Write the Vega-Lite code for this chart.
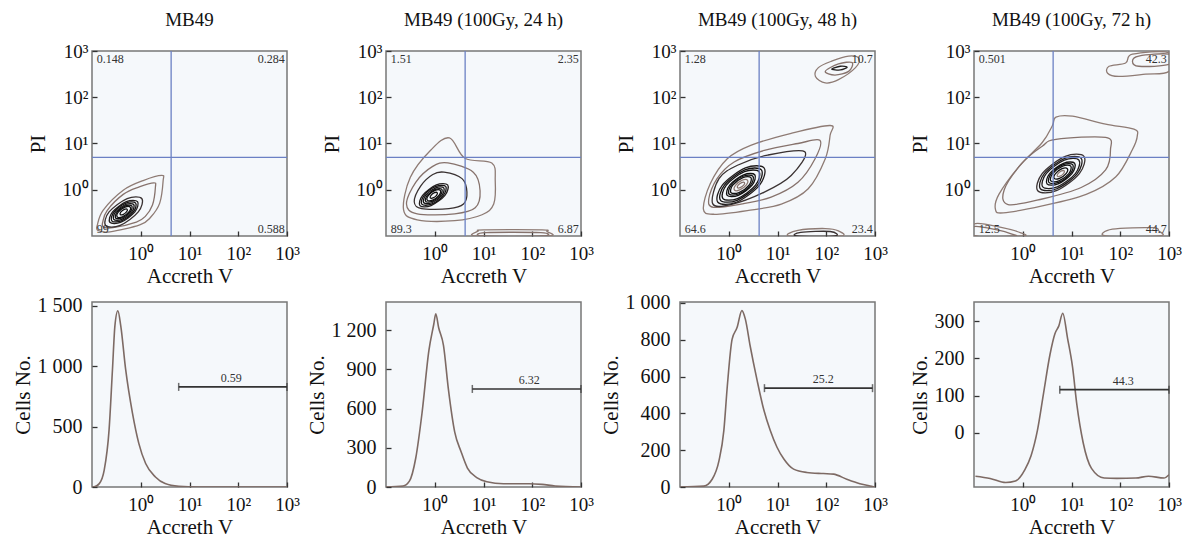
{
"$schema": "https://vega.github.io/schema/vega-lite/v6.json",
"background": "white",
"padding": {"left": 11, "top": 10, "right": 5, "bottom": 5},
"columns": 4,
"bounds": "flush",
"spacing": {"row": 66, "column": 99},
"datasets": {
"gate": [{"x": 4.2, "y": 5}],
"c1": [
{"c":"a","i":0,"x":0.129,"y":0.174,"l":1},{"c":"a","i":1,"x":0.17,"y":0.363,"l":1},{"c":"a","i":2,"x":0.437,"y":0.977,"l":1},{"c":"a","i":3,"x":1.12,"y":1.58,"l":1},{"c":"a","i":4,"x":2.69,"y":2.04,"l":1},{"c":"a","i":5,"x":2.88,"y":1.58,"l":1},{"c":"a","i":6,"x":2.45,"y":0.513,"l":1},{"c":"a","i":7,"x":1.58,"y":0.251,"l":1},{"c":"a","i":8,"x":0.955,"y":0.174,"l":1},{"c":"a","i":9,"x":0.234,"y":0.123,"l":1},{"c":"a","i":10,"x":0.132,"y":0.132,"l":1},
{"c":"b","i":0,"x":0.166,"y":0.2,"l":2},{"c":"b","i":1,"x":0.204,"y":0.355,"l":2},{"c":"b","i":2,"x":0.437,"y":0.794,"l":2},{"c":"b","i":3,"x":0.933,"y":1.15,"l":2},{"c":"b","i":4,"x":1.86,"y":1.41,"l":2},{"c":"b","i":5,"x":2.0,"y":1.15,"l":2},{"c":"b","i":6,"x":1.74,"y":0.468,"l":2},{"c":"b","i":7,"x":1.23,"y":0.263,"l":2},{"c":"b","i":8,"x":0.813,"y":0.2,"l":2},{"c":"b","i":9,"x":0.269,"y":0.151,"l":2},{"c":"b","i":10,"x":0.17,"y":0.158,"l":2},
{"c":"c","i":0,"x":1.05,"y":0.647,"l":3},{"c":"c","i":1,"x":0.527,"y":0.645,"l":3},{"c":"c","i":2,"x":0.224,"y":0.331,"l":3},{"c":"c","i":3,"x":0.19,"y":0.169,"l":3},{"c":"c","i":4,"x":0.379,"y":0.17,"l":3},{"c":"c","i":5,"x":0.89,"y":0.331,"l":3},
{"c":"d","i":0,"x":0.86,"y":0.553,"l":4},{"c":"d","i":1,"x":0.507,"y":0.552,"l":4},{"c":"d","i":2,"x":0.264,"y":0.331,"l":4},{"c":"d","i":3,"x":0.232,"y":0.198,"l":4},{"c":"d","i":4,"x":0.394,"y":0.199,"l":4},{"c":"d","i":5,"x":0.757,"y":0.331,"l":4},
{"c":"d2","i":0,"x":0.786,"y":0.515,"l":5},{"c":"d2","i":1,"x":0.498,"y":0.515,"l":5},{"c":"d2","i":2,"x":0.284,"y":0.331,"l":5},{"c":"d2","i":3,"x":0.254,"y":0.213,"l":5},{"c":"d2","i":4,"x":0.401,"y":0.213,"l":5},{"c":"d2","i":5,"x":0.704,"y":0.331,"l":5},
{"c":"e","i":0,"x":0.717,"y":0.48,"l":5},{"c":"e","i":1,"x":0.49,"y":0.48,"l":5},{"c":"e","i":2,"x":0.305,"y":0.331,"l":5},{"c":"e","i":3,"x":0.279,"y":0.228,"l":5},{"c":"e","i":4,"x":0.408,"y":0.228,"l":5},{"c":"e","i":5,"x":0.655,"y":0.331,"l":5},
{"c":"e2","i":0,"x":0.655,"y":0.447,"l":6},{"c":"e2","i":1,"x":0.481,"y":0.447,"l":6},{"c":"e2","i":2,"x":0.329,"y":0.331,"l":6},{"c":"e2","i":3,"x":0.305,"y":0.245,"l":6},{"c":"e2","i":4,"x":0.415,"y":0.245,"l":6},{"c":"e2","i":5,"x":0.608,"y":0.331,"l":6},
{"c":"f","i":0,"x":0.608,"y":0.422,"l":6},{"c":"f","i":1,"x":0.475,"y":0.422,"l":6},{"c":"f","i":2,"x":0.349,"y":0.331,"l":6},{"c":"f","i":3,"x":0.329,"y":0.26,"l":6},{"c":"f","i":4,"x":0.421,"y":0.26,"l":6},{"c":"f","i":5,"x":0.573,"y":0.331,"l":6},
{"c":"g","i":0,"x":0.527,"y":0.377,"l":7},{"c":"g","i":1,"x":0.462,"y":0.377,"l":7},{"c":"g","i":2,"x":0.392,"y":0.331,"l":7},{"c":"g","i":3,"x":0.38,"y":0.291,"l":7},{"c":"g","i":4,"x":0.433,"y":0.291,"l":7},{"c":"g","i":5,"x":0.51,"y":0.331,"l":7}
],
"c2": [
{"c":"a","i":0,"x":2.0,"y":13.2,"l":1},{"c":"a","i":1,"x":4.17,"y":4.79,"l":1},{"c":"a","i":2,"x":14.8,"y":3.8,"l":1},{"c":"a","i":3,"x":17.4,"y":1.58,"l":1},{"c":"a","i":4,"x":16.2,"y":0.49,"l":1},{"c":"a","i":5,"x":9.33,"y":0.288,"l":1},{"c":"a","i":6,"x":2.57,"y":0.214,"l":1},{"c":"a","i":7,"x":0.437,"y":0.224,"l":1},{"c":"a","i":8,"x":0.229,"y":0.372,"l":1},{"c":"a","i":9,"x":0.316,"y":1.86,"l":1},{"c":"a","i":10,"x":0.832,"y":7.24,"l":1},
{"c":"b","i":0,"x":1.86,"y":3.8,"l":2},{"c":"b","i":1,"x":6.17,"y":2.4,"l":2},{"c":"b","i":2,"x":8.51,"y":0.955,"l":2},{"c":"b","i":3,"x":6.76,"y":0.407,"l":2},{"c":"b","i":4,"x":2.57,"y":0.302,"l":2},{"c":"b","i":5,"x":0.437,"y":0.302,"l":2},{"c":"b","i":6,"x":0.263,"y":0.49,"l":2},{"c":"b","i":7,"x":0.407,"y":1.45,"l":2},{"c":"b","i":8,"x":0.891,"y":3.16,"l":2},
{"c":"c","i":0,"x":1.55,"y":2.4,"l":3},{"c":"c","i":1,"x":3.63,"y":1.74,"l":3},{"c":"c","i":2,"x":4.57,"y":0.891,"l":3},{"c":"c","i":3,"x":3.89,"y":0.49,"l":3},{"c":"c","i":4,"x":1.95,"y":0.389,"l":3},{"c":"c","i":5,"x":0.537,"y":0.389,"l":3},{"c":"c","i":6,"x":0.38,"y":0.55,"l":3},{"c":"c","i":7,"x":0.513,"y":1.2,"l":3},{"c":"c","i":8,"x":0.912,"y":2.14,"l":3},
{"c":"d","i":0,"x":1.84,"y":1.27,"l":4},{"c":"d","i":1,"x":1.08,"y":1.27,"l":4},{"c":"d","i":2,"x":0.563,"y":0.759,"l":4},{"c":"d","i":3,"x":0.497,"y":0.454,"l":4},{"c":"d","i":4,"x":0.841,"y":0.455,"l":4},{"c":"d","i":5,"x":1.62,"y":0.759,"l":4},
{"c":"d2","i":0,"x":1.68,"y":1.18,"l":5},{"c":"d2","i":1,"x":1.06,"y":1.18,"l":5},{"c":"d2","i":2,"x":0.606,"y":0.759,"l":5},{"c":"d2","i":3,"x":0.543,"y":0.488,"l":5},{"c":"d2","i":4,"x":0.858,"y":0.488,"l":5},{"c":"d2","i":5,"x":1.5,"y":0.759,"l":5},
{"c":"e","i":0,"x":1.53,"y":1.1,"l":5},{"c":"e","i":1,"x":1.05,"y":1.1,"l":5},{"c":"e","i":2,"x":0.651,"y":0.759,"l":5},{"c":"e","i":3,"x":0.596,"y":0.524,"l":5},{"c":"e","i":4,"x":0.871,"y":0.524,"l":5},{"c":"e","i":5,"x":1.4,"y":0.759,"l":5},
{"c":"e2","i":0,"x":1.4,"y":1.02,"l":6},{"c":"e2","i":1,"x":1.03,"y":1.02,"l":6},{"c":"e2","i":2,"x":0.702,"y":0.759,"l":6},{"c":"e2","i":3,"x":0.651,"y":0.562,"l":6},{"c":"e2","i":4,"x":0.887,"y":0.562,"l":6},{"c":"e2","i":5,"x":1.3,"y":0.759,"l":6},
{"c":"f","i":0,"x":1.3,"y":0.967,"l":6},{"c":"f","i":1,"x":1.01,"y":0.967,"l":6},{"c":"f","i":2,"x":0.745,"y":0.759,"l":6},{"c":"f","i":3,"x":0.702,"y":0.596,"l":6},{"c":"f","i":4,"x":0.9,"y":0.596,"l":6},{"c":"f","i":5,"x":1.22,"y":0.759,"l":6},
{"c":"g","i":0,"x":1.12,"y":0.864,"l":7},{"c":"g","i":1,"x":0.987,"y":0.864,"l":7},{"c":"g","i":2,"x":0.838,"y":0.759,"l":7},{"c":"g","i":3,"x":0.811,"y":0.667,"l":7},{"c":"g","i":4,"x":0.924,"y":0.667,"l":7},{"c":"g","i":5,"x":1.09,"y":0.759,"l":7},
{"c":"h","i":0,"x":7.2,"y":0.1,"l":1},{"c":"h","i":1,"x":7.8,"y":0.128,"l":1},{"c":"h","i":2,"x":10,"y":0.135,"l":1},{"c":"h","i":3,"x":160,"y":0.135,"l":1},{"c":"h","i":4,"x":200,"y":0.125,"l":1},{"c":"h","i":5,"x":210,"y":0.1,"l":1},
{"c":"k","i":0,"x":10,"y":0.1,"l":2},{"c":"k","i":1,"x":11,"y":0.118,"l":2},{"c":"k","i":2,"x":150,"y":0.118,"l":2},{"c":"k","i":3,"x":160,"y":0.1,"l":2}
],
"c3": [
{"c":"a","i":0,"x":120,"y":24.5,"l":1},{"c":"a","i":1,"x":120,"y":15.1,"l":1},{"c":"a","i":2,"x":95.5,"y":4.68,"l":1},{"c":"a","i":3,"x":42.7,"y":1.05,"l":1},{"c":"a","i":4,"x":12,"y":0.49,"l":1},{"c":"a","i":5,"x":2.4,"y":0.355,"l":1},{"c":"a","i":6,"x":0.49,"y":0.295,"l":1},{"c":"a","i":7,"x":0.302,"y":0.38,"l":1},{"c":"a","i":8,"x":0.417,"y":1.35,"l":1},{"c":"a","i":9,"x":0.933,"y":4.68,"l":1},{"c":"a","i":10,"x":2.82,"y":9.12,"l":1},{"c":"a","i":11,"x":19.1,"y":16.6,"l":1},
{"c":"b","i":0,"x":74,"y":11.7,"l":2},{"c":"b","i":1,"x":59,"y":4.68,"l":2},{"c":"b","i":2,"x":26.3,"y":1.45,"l":2},{"c":"b","i":3,"x":7.4,"y":0.692,"l":2},{"c":"b","i":4,"x":1.78,"y":0.49,"l":2},{"c":"b","i":5,"x":0.49,"y":0.417,"l":2},{"c":"b","i":6,"x":0.389,"y":0.631,"l":2},{"c":"b","i":7,"x":0.575,"y":1.74,"l":2},{"c":"b","i":8,"x":1.29,"y":3.98,"l":2},{"c":"b","i":9,"x":5.37,"y":7.08,"l":2},{"c":"b","i":10,"x":26.3,"y":10,"l":2},
{"c":"c","i":0,"x":36.3,"y":6.61,"l":3},{"c":"c","i":1,"x":19.1,"y":2.04,"l":3},{"c":"c","i":2,"x":5.37,"y":0.891,"l":3},{"c":"c","i":3,"x":1.1,"y":0.479,"l":3},{"c":"c","i":4,"x":0.468,"y":0.501,"l":3},{"c":"c","i":5,"x":0.631,"y":1.74,"l":3},{"c":"c","i":6,"x":1.51,"y":3.39,"l":3},{"c":"c","i":7,"x":6.31,"y":5.62,"l":3},
{"c":"d","i":0,"x":5.3,"y":2.97,"l":4},{"c":"d","i":1,"x":2.2,"y":2.96,"l":4},{"c":"d","i":2,"x":0.739,"y":1.26,"l":4},{"c":"d","i":3,"x":0.598,"y":0.536,"l":4},{"c":"d","i":4,"x":1.44,"y":0.537,"l":4},{"c":"d","i":5,"x":4.29,"y":1.26,"l":4},
{"c":"d2","i":0,"x":4.67,"y":2.69,"l":5},{"c":"d2","i":1,"x":2.14,"y":2.68,"l":5},{"c":"d2","i":2,"x":0.817,"y":1.26,"l":5},{"c":"d2","i":3,"x":0.678,"y":0.591,"l":5},{"c":"d2","i":4,"x":1.48,"y":0.592,"l":5},{"c":"d2","i":5,"x":3.88,"y":1.26,"l":5},
{"c":"e","i":0,"x":4.18,"y":2.46,"l":5},{"c":"e","i":1,"x":2.1,"y":2.46,"l":5},{"c":"e","i":2,"x":0.894,"y":1.26,"l":5},{"c":"e","i":3,"x":0.758,"y":0.645,"l":5},{"c":"e","i":4,"x":1.51,"y":0.646,"l":5},{"c":"e","i":5,"x":3.54,"y":1.26,"l":5},
{"c":"f","i":0,"x":3.42,"y":2.11,"l":6},{"c":"f","i":1,"x":2.02,"y":2.1,"l":6},{"c":"f","i":2,"x":1.05,"y":1.26,"l":6},{"c":"f","i":3,"x":0.926,"y":0.753,"l":6},{"c":"f","i":4,"x":1.57,"y":0.756,"l":6},{"c":"f","i":5,"x":3.02,"y":1.26,"l":6},
{"c":"f2","i":0,"x":3.13,"y":1.96,"l":7},{"c":"f2","i":1,"x":1.98,"y":1.96,"l":7},{"c":"f2","i":2,"x":1.13,"y":1.26,"l":7},{"c":"f2","i":3,"x":1.01,"y":0.81,"l":7},{"c":"f2","i":4,"x":1.6,"y":0.81,"l":7},{"c":"f2","i":5,"x":2.8,"y":1.26,"l":7},
{"c":"g","i":0,"x":2.85,"y":1.83,"l":7},{"c":"g","i":1,"x":1.95,"y":1.83,"l":7},{"c":"g","i":2,"x":1.21,"y":1.26,"l":7},{"c":"g","i":3,"x":1.11,"y":0.869,"l":7},{"c":"g","i":4,"x":1.62,"y":0.869,"l":7},{"c":"g","i":5,"x":2.61,"y":1.26,"l":7},
{"c":"h","i":0,"x":2.42,"y":1.61,"l":8},{"c":"h","i":1,"x":1.89,"y":1.61,"l":8},{"c":"h","i":2,"x":1.39,"y":1.26,"l":8},{"c":"h","i":3,"x":1.31,"y":0.989,"l":8},{"c":"h","i":4,"x":1.68,"y":0.989,"l":8},{"c":"h","i":5,"x":2.28,"y":1.26,"l":8},
{"c":"m","i":0,"x":2.1,"y":1.43,"l":9},{"c":"m","i":1,"x":1.84,"y":1.43,"l":9},{"c":"m","i":2,"x":1.56,"y":1.26,"l":9},{"c":"m","i":3,"x":1.51,"y":1.11,"l":9},{"c":"m","i":4,"x":1.72,"y":1.11,"l":9},{"c":"m","i":5,"x":2.03,"y":1.26,"l":9},
{"c":"n","i":0,"x":60,"y":282,"l":1},{"c":"n","i":1,"x":69,"y":437,"l":1},{"c":"n","i":2,"x":129,"y":603,"l":1},{"c":"n","i":3,"x":288,"y":776,"l":1},{"c":"n","i":4,"x":468,"y":692,"l":1},{"c":"n","i":5,"x":398,"y":437,"l":1},{"c":"n","i":6,"x":178,"y":240,"l":1},{"c":"n","i":7,"x":95.5,"y":204,"l":1},
{"c":"o","i":0,"x":95.5,"y":363,"l":2},{"c":"o","i":1,"x":178,"y":525,"l":2},{"c":"o","i":2,"x":339,"y":562,"l":2},{"c":"o","i":3,"x":288,"y":363,"l":2},{"c":"o","i":4,"x":151,"y":302,"l":2},
{"c":"p","i":0,"x":129,"y":407,"l":4},{"c":"p","i":1,"x":195,"y":468,"l":4},{"c":"p","i":2,"x":269,"y":447,"l":4},{"c":"p","i":3,"x":195,"y":389,"l":4},
{"c":"q","i":0,"x":17.8,"y":0.1,"l":1},{"c":"q","i":1,"x":26.3,"y":0.132,"l":1},{"c":"q","i":2,"x":95.5,"y":0.145,"l":1},{"c":"q","i":3,"x":178,"y":0.129,"l":1},{"c":"q","i":4,"x":195,"y":0.1,"l":1},
{"c":"r","i":0,"x":25,"y":0.1,"l":3},{"c":"r","i":1,"x":30,"y":0.12,"l":3},{"c":"r","i":2,"x":120,"y":0.125,"l":3},{"c":"r","i":3,"x":150,"y":0.1,"l":3}
],
"c4": [
{"c":"a","i":0,"x":4.79,"y":37.2,"l":1},{"c":"a","i":1,"x":10.5,"y":38.9,"l":1},{"c":"a","i":2,"x":50.1,"y":26.3,"l":1},{"c":"a","i":3,"x":191,"y":20.4,"l":1},{"c":"a","i":4,"x":224,"y":14.8,"l":1},{"c":"a","i":5,"x":178,"y":7.41,"l":1},{"c":"a","i":6,"x":81.3,"y":1.91,"l":1},{"c":"a","i":7,"x":20,"y":0.794,"l":1},{"c":"a","i":8,"x":2.51,"y":0.447,"l":1},{"c":"a","i":9,"x":0.398,"y":0.316,"l":1},{"c":"a","i":10,"x":0.275,"y":0.38,"l":1},{"c":"a","i":11,"x":0.324,"y":0.794,"l":1},{"c":"a","i":12,"x":0.832,"y":3.16,"l":1},{"c":"a","i":13,"x":2.51,"y":10.5,"l":1},{"c":"a","i":14,"x":4.07,"y":24.5,"l":1},
{"c":"b","i":0,"x":4.79,"y":12.3,"l":2},{"c":"b","i":1,"x":50.1,"y":13.5,"l":2},{"c":"b","i":2,"x":63.1,"y":7.41,"l":2},{"c":"b","i":3,"x":50.1,"y":2.69,"l":2},{"c":"b","i":4,"x":15.8,"y":1.12,"l":2},{"c":"b","i":5,"x":2.51,"y":0.631,"l":2},{"c":"b","i":6,"x":0.501,"y":0.479,"l":2},{"c":"b","i":7,"x":0.417,"y":1.0,"l":2},{"c":"b","i":8,"x":0.977,"y":3.8,"l":2},{"c":"b","i":9,"x":2.51,"y":8.71,"l":2},
{"c":"c","i":0,"x":18,"y":5.28,"l":3},{"c":"c","i":1,"x":7.45,"y":5.26,"l":3},{"c":"c","i":2,"x":2.5,"y":2.24,"l":3},{"c":"c","i":3,"x":2.03,"y":0.952,"l":3},{"c":"c","i":4,"x":4.88,"y":0.954,"l":3},{"c":"c","i":5,"x":14.5,"y":2.24,"l":3},
{"c":"c2","i":0,"x":15.8,"y":4.78,"l":4},{"c":"c2","i":1,"x":7.27,"y":4.77,"l":4},{"c":"c2","i":2,"x":2.77,"y":2.24,"l":4},{"c":"c2","i":3,"x":2.3,"y":1.05,"l":4},{"c":"c2","i":4,"x":5.0,"y":1.05,"l":4},{"c":"c2","i":5,"x":13.1,"y":2.24,"l":4},
{"c":"d","i":0,"x":14.2,"y":4.38,"l":4},{"c":"d","i":1,"x":7.12,"y":4.37,"l":4},{"c":"d","i":2,"x":3.03,"y":2.24,"l":4},{"c":"d","i":3,"x":2.57,"y":1.15,"l":4},{"c":"d","i":4,"x":5.11,"y":1.15,"l":4},{"c":"d","i":5,"x":12,"y":2.24,"l":4},
{"c":"e","i":0,"x":11.6,"y":3.74,"l":5},{"c":"e","i":1,"x":6.84,"y":3.73,"l":5},{"c":"e","i":2,"x":3.56,"y":2.24,"l":5},{"c":"e","i":3,"x":3.14,"y":1.34,"l":5},{"c":"e","i":4,"x":5.31,"y":1.34,"l":5},{"c":"e","i":5,"x":10.2,"y":2.24,"l":5},
{"c":"e2","i":0,"x":10.6,"y":3.49,"l":6},{"c":"e2","i":1,"x":6.72,"y":3.49,"l":6},{"c":"e2","i":2,"x":3.83,"y":2.24,"l":6},{"c":"e2","i":3,"x":3.43,"y":1.44,"l":6},{"c":"e2","i":4,"x":5.41,"y":1.44,"l":6},{"c":"e2","i":5,"x":9.49,"y":2.24,"l":6},
{"c":"f","i":0,"x":9.67,"y":3.25,"l":6},{"c":"f","i":1,"x":6.61,"y":3.25,"l":6},{"c":"f","i":2,"x":4.11,"y":2.24,"l":6},{"c":"f","i":3,"x":3.76,"y":1.55,"l":6},{"c":"f","i":4,"x":5.5,"y":1.55,"l":6},{"c":"f","i":5,"x":8.84,"y":2.24,"l":6},
{"c":"g","i":0,"x":8.21,"y":2.85,"l":7},{"c":"g","i":1,"x":6.4,"y":2.85,"l":7},{"c":"g","i":2,"x":4.7,"y":2.24,"l":7},{"c":"g","i":3,"x":4.43,"y":1.76,"l":7},{"c":"g","i":4,"x":5.68,"y":1.76,"l":7},{"c":"g","i":5,"x":7.73,"y":2.24,"l":7},
{"c":"h","i":0,"x":7.1,"y":2.55,"l":8},{"c":"h","i":1,"x":6.23,"y":2.55,"l":8},{"c":"h","i":2,"x":5.29,"y":2.24,"l":8},{"c":"h","i":3,"x":5.12,"y":1.97,"l":8},{"c":"h","i":4,"x":5.84,"y":1.97,"l":8},{"c":"h","i":5,"x":6.87,"y":2.24,"l":8},
{"c":"n","i":0,"x":55,"y":331,"l":1},{"c":"n","i":1,"x":58.9,"y":468,"l":1},{"c":"n","i":2,"x":129,"y":550,"l":1},{"c":"n","i":3,"x":178,"y":851,"l":1},{"c":"n","i":4,"x":1000,"y":912,"l":1},{"c":"n","i":5,"x":1000,"y":363,"l":1},{"c":"n","i":6,"x":331,"y":316,"l":1},{"c":"n","i":7,"x":93.3,"y":282,"l":1},
{"c":"o","i":0,"x":178,"y":603,"l":2},{"c":"o","i":1,"x":240,"y":776,"l":2},{"c":"o","i":2,"x":1000,"y":851,"l":2},{"c":"o","i":3,"x":1000,"y":513,"l":2},{"c":"o","i":4,"x":240,"y":468,"l":2},
{"c":"p","i":0,"x":0.1,"y":0.1,"l":1},{"c":"p","i":1,"x":0.107,"y":0.186,"l":1},{"c":"p","i":2,"x":0.38,"y":0.151,"l":1},{"c":"p","i":3,"x":0.912,"y":0.117,"l":1},{"c":"p","i":4,"x":0.977,"y":0.1,"l":1},
{"c":"q","i":0,"x":0.1,"y":0.1,"l":2},{"c":"q","i":1,"x":0.1,"y":0.16,"l":2},{"c":"q","i":2,"x":0.3,"y":0.135,"l":2},{"c":"q","i":3,"x":0.6,"y":0.11,"l":2},{"c":"q","i":4,"x":0.65,"y":0.1,"l":2},
{"c":"r","i":0,"x":50,"y":0.1,"l":1},{"c":"r","i":1,"x":69,"y":0.141,"l":1},{"c":"r","i":2,"x":457,"y":0.151,"l":1},{"c":"r","i":3,"x":617,"y":0.129,"l":1},{"c":"r","i":4,"x":630,"y":0.1,"l":1}
],
"q1": [{"x":0.125,"y":680,"t":"0.148","s":"L"},{"x":900,"y":680,"t":"0.284","s":"R"},{"x":0.125,"y":0.145,"t":"99","s":"L"},{"x":900,"y":0.145,"t":"0.588","s":"R"}],
"q2": [{"x":0.125,"y":680,"t":"1.51","s":"L"},{"x":900,"y":680,"t":"2.35","s":"R"},{"x":0.125,"y":0.145,"t":"89.3","s":"L"},{"x":900,"y":0.145,"t":"6.87","s":"R"}],
"q3": [{"x":0.125,"y":680,"t":"1.28","s":"L"},{"x":900,"y":680,"t":"10.7","s":"R"},{"x":0.125,"y":0.145,"t":"64.6","s":"L"},{"x":900,"y":0.145,"t":"23.4","s":"R"}],
"q4": [{"x":0.125,"y":680,"t":"0.501","s":"L"},{"x":900,"y":680,"t":"42.3","s":"R"},{"x":0.125,"y":0.145,"t":"12.5","s":"L"},{"x":900,"y":0.145,"t":"44.7","s":"R"}],
"h1": [{"x":0.1,"y":0},{"x":0.107,"y":0},{"x":0.141,"y":28},{"x":0.178,"y":139},{"x":0.224,"y":472},{"x":0.263,"y":972},{"x":0.295,"y":1333},{"x":0.339,"y":1458},{"x":0.389,"y":1333},{"x":0.49,"y":972},{"x":0.676,"y":611},{"x":0.912,"y":361},{"x":1.26,"y":194},{"x":2,"y":83},{"x":3.16,"y":28},{"x":6.03,"y":6},{"x":15.1,"y":0},{"x":1000,"y":0}],
"h2": [{"x":0.1,"y":0},{"x":0.224,"y":8},{"x":0.302,"y":45},{"x":0.407,"y":220},{"x":0.55,"y":570},{"x":0.759,"y":1045},{"x":0.955,"y":1245},{"x":1.05,"y":1325},{"x":1.2,"y":1220},{"x":1.51,"y":1083},{"x":1.91,"y":745},{"x":2.57,"y":420},{"x":3.47,"y":270},{"x":4.68,"y":145},{"x":7.41,"y":70},{"x":11.7,"y":40},{"x":25.7,"y":25},{"x":87.1,"y":25},{"x":158,"y":20},{"x":295,"y":8},{"x":1000,"y":0}],
"h3": [{"x":0.1,"y":0},{"x":0.309,"y":5},{"x":0.457,"y":42},{"x":0.631,"y":143},{"x":0.794,"y":308},{"x":0.933,"y":546},{"x":1.17,"y":802},{"x":1.48,"y":866},{"x":1.86,"y":958},{"x":2.19,"y":912},{"x":2.75,"y":766},{"x":3.8,"y":582},{"x":5.25,"y":418},{"x":7.08,"y":308},{"x":9.77,"y":216},{"x":13.5,"y":152},{"x":21.4,"y":97},{"x":39.8,"y":79},{"x":87.1,"y":73},{"x":141,"y":70},{"x":263,"y":42},{"x":490,"y":18},{"x":851,"y":4},{"x":1000,"y":0}],
"h4": [{"x":0.107,"y":-116},{"x":0.214,"y":-122},{"x":0.447,"y":-133},{"x":0.708,"y":-129},{"x":1.1,"y":-99},{"x":1.48,"y":-61},{"x":2,"y":7},{"x":2.69,"y":109},{"x":3.63,"y":211},{"x":4.57,"y":266},{"x":5.5,"y":287},{"x":6.61,"y":321},{"x":8.32,"y":253},{"x":10.5,"y":177},{"x":12.9,"y":75},{"x":17.4,"y":-27},{"x":25.7,"y":-95},{"x":46.8,"y":-121},{"x":85.1,"y":-122},{"x":209,"y":-121},{"x":380,"y":-116},{"x":794,"y":-121},{"x":1000,"y":-112}],
"g1": [{"x":6.0,"x2":1000,"y":828,"t":"0.59","tx":72}],
"g2": [{"x":5.9,"x2":1000,"y":750,"t":"6.32","tx":87}],
"g3": [{"x":5.4,"x2":890,"y":537,"t":"25.2","tx":87}],
"g4": [{"x":5.75,"x2":1000,"y":116,"t":"44.3","tx":115}]
},
"concat": [
{"width":195,"height":185,"title":"MB49","layer":[
{"data":{"name":"c1"},"mark":{"type":"line","interpolate":"cardinal-closed","clip":true,"strokeWidth":1.3},
 "encoding":{"x":{"field":"x","type":"quantitative","title":"Accreth V","scale":{"type":"log","domain":[0.1,1000],"nice":false},"axis":{"values":[1,10,100,1000],"labelExpr":"datum.value == 1 ? '10⁰' : datum.value == 10 ? '10¹' : datum.value == 100 ? '10²' : '10³'"}},
 "y":{"field":"y","type":"quantitative","title":"PI","scale":{"type":"log","domain":[0.1,1000],"nice":false},"axis":{"values":[1,10,100,1000],"titlePadding":14,"labelExpr":"datum.value == 1 ? '10⁰' : datum.value == 10 ? '10¹' : datum.value == 100 ? '10²' : '10³'"}},
 "detail":{"field":"c"},"order":{"field":"i","type":"quantitative"},
 "color":{"field":"l","type":"ordinal","legend":null,"scale":{"domain":[1,2,3,4,5,6,7],"range":["#8e7b74","#86726c","#3a3232","#221e1e","#151313","#111111","#111111"]}}}},
{"data":{"name":"gate"},"mark":{"type":"rule","color":"#6b80c4","strokeWidth":1.3},"encoding":{"x":{"field":"x","type":"quantitative","title":"Accreth V"}}},
{"data":{"name":"gate"},"mark":{"type":"rule","color":"#6b80c4","strokeWidth":1.3},"encoding":{"y":{"field":"y","type":"quantitative","title":"PI"}}},
{"data":{"name":"q1"},"transform":[{"filter":"datum.s == 'L'"}],"mark":{"type":"text","align":"left","baseline":"middle","fontSize":12,"color":"#333"},"encoding":{"x":{"field":"x","type":"quantitative","title":"Accreth V"},"y":{"field":"y","type":"quantitative","title":"PI"},"text":{"field":"t"}}},
{"data":{"name":"q1"},"transform":[{"filter":"datum.s == 'R'"}],"mark":{"type":"text","align":"right","baseline":"middle","fontSize":12,"color":"#333"},"encoding":{"x":{"field":"x","type":"quantitative","title":"Accreth V"},"y":{"field":"y","type":"quantitative","title":"PI"},"text":{"field":"t"}}}
]},
{"width":195,"height":185,"title":"MB49 (100Gy, 24 h)","layer":[
{"data":{"name":"c2"},"mark":{"type":"line","interpolate":"cardinal-closed","clip":true,"strokeWidth":1.3},
 "encoding":{"x":{"field":"x","type":"quantitative","title":"Accreth V","scale":{"type":"log","domain":[0.1,1000],"nice":false},"axis":{"values":[1,10,100,1000],"labelExpr":"datum.value == 1 ? '10⁰' : datum.value == 10 ? '10¹' : datum.value == 100 ? '10²' : '10³'"}},
 "y":{"field":"y","type":"quantitative","title":"PI","scale":{"type":"log","domain":[0.1,1000],"nice":false},"axis":{"values":[1,10,100,1000],"titlePadding":14,"labelExpr":"datum.value == 1 ? '10⁰' : datum.value == 10 ? '10¹' : datum.value == 100 ? '10²' : '10³'"}},
 "detail":{"field":"c"},"order":{"field":"i","type":"quantitative"},
 "color":{"field":"l","type":"ordinal","legend":null,"scale":{"domain":[1,2,3,4,5,6,7],"range":["#8e7b74","#86726c","#7a6862","#3a3232","#221e1e","#151313","#111111"]}}}},
{"data":{"name":"gate"},"mark":{"type":"rule","color":"#6b80c4","strokeWidth":1.3},"encoding":{"x":{"field":"x","type":"quantitative","title":"Accreth V"}}},
{"data":{"name":"gate"},"mark":{"type":"rule","color":"#6b80c4","strokeWidth":1.3},"encoding":{"y":{"field":"y","type":"quantitative","title":"PI"}}},
{"data":{"name":"q2"},"transform":[{"filter":"datum.s == 'L'"}],"mark":{"type":"text","align":"left","baseline":"middle","fontSize":12,"color":"#333"},"encoding":{"x":{"field":"x","type":"quantitative","title":"Accreth V"},"y":{"field":"y","type":"quantitative","title":"PI"},"text":{"field":"t"}}},
{"data":{"name":"q2"},"transform":[{"filter":"datum.s == 'R'"}],"mark":{"type":"text","align":"right","baseline":"middle","fontSize":12,"color":"#333"},"encoding":{"x":{"field":"x","type":"quantitative","title":"Accreth V"},"y":{"field":"y","type":"quantitative","title":"PI"},"text":{"field":"t"}}}
]},
{"width":195,"height":185,"title":"MB49 (100Gy, 48 h)","layer":[
{"data":{"name":"c3"},"mark":{"type":"line","interpolate":"cardinal-closed","clip":true,"strokeWidth":1.3},
 "encoding":{"x":{"field":"x","type":"quantitative","title":"Accreth V","scale":{"type":"log","domain":[0.1,1000],"nice":false},"axis":{"values":[1,10,100,1000],"labelExpr":"datum.value == 1 ? '10⁰' : datum.value == 10 ? '10¹' : datum.value == 100 ? '10²' : '10³'"}},
 "y":{"field":"y","type":"quantitative","title":"PI","scale":{"type":"log","domain":[0.1,1000],"nice":false},"axis":{"values":[1,10,100,1000],"titlePadding":14,"labelExpr":"datum.value == 1 ? '10⁰' : datum.value == 10 ? '10¹' : datum.value == 100 ? '10²' : '10³'"}},
 "detail":{"field":"c"},"order":{"field":"i","type":"quantitative"},
 "color":{"field":"l","type":"ordinal","legend":null,"scale":{"domain":[1,2,3,4,5,6,7,8,9],"range":["#8e7b74","#86726c","#7a6862","#3a3232","#2a2626","#1e1b1b","#151313","#111111","#111111"]}}}},
{"data":{"name":"gate"},"mark":{"type":"rule","color":"#6b80c4","strokeWidth":1.3},"encoding":{"x":{"field":"x","type":"quantitative","title":"Accreth V"}}},
{"data":{"name":"gate"},"mark":{"type":"rule","color":"#6b80c4","strokeWidth":1.3},"encoding":{"y":{"field":"y","type":"quantitative","title":"PI"}}},
{"data":{"name":"q3"},"transform":[{"filter":"datum.s == 'L'"}],"mark":{"type":"text","align":"left","baseline":"middle","fontSize":12,"color":"#333"},"encoding":{"x":{"field":"x","type":"quantitative","title":"Accreth V"},"y":{"field":"y","type":"quantitative","title":"PI"},"text":{"field":"t"}}},
{"data":{"name":"q3"},"transform":[{"filter":"datum.s == 'R'"}],"mark":{"type":"text","align":"right","baseline":"middle","fontSize":12,"color":"#333"},"encoding":{"x":{"field":"x","type":"quantitative","title":"Accreth V"},"y":{"field":"y","type":"quantitative","title":"PI"},"text":{"field":"t"}}}
]},
{"width":195,"height":185,"title":"MB49 (100Gy, 72 h)","layer":[
{"data":{"name":"c4"},"mark":{"type":"line","interpolate":"cardinal-closed","clip":true,"strokeWidth":1.3},
 "encoding":{"x":{"field":"x","type":"quantitative","title":"Accreth V","scale":{"type":"log","domain":[0.1,1000],"nice":false},"axis":{"values":[1,10,100,1000],"labelExpr":"datum.value == 1 ? '10⁰' : datum.value == 10 ? '10¹' : datum.value == 100 ? '10²' : '10³'"}},
 "y":{"field":"y","type":"quantitative","title":"PI","scale":{"type":"log","domain":[0.1,1000],"nice":false},"axis":{"values":[1,10,100,1000],"titlePadding":14,"labelExpr":"datum.value == 1 ? '10⁰' : datum.value == 10 ? '10¹' : datum.value == 100 ? '10²' : '10³'"}},
 "detail":{"field":"c"},"order":{"field":"i","type":"quantitative"},
 "color":{"field":"l","type":"ordinal","legend":null,"scale":{"domain":[1,2,3,4,5,6,7,8],"range":["#8e7b74","#86726c","#3a3232","#2a2626","#1e1b1b","#151313","#111111","#111111"]}}}},
{"data":{"name":"gate"},"mark":{"type":"rule","color":"#6b80c4","strokeWidth":1.3},"encoding":{"x":{"field":"x","type":"quantitative","title":"Accreth V"}}},
{"data":{"name":"gate"},"mark":{"type":"rule","color":"#6b80c4","strokeWidth":1.3},"encoding":{"y":{"field":"y","type":"quantitative","title":"PI"}}},
{"data":{"name":"q4"},"transform":[{"filter":"datum.s == 'L'"}],"mark":{"type":"text","align":"left","baseline":"middle","fontSize":12,"color":"#333"},"encoding":{"x":{"field":"x","type":"quantitative","title":"Accreth V"},"y":{"field":"y","type":"quantitative","title":"PI"},"text":{"field":"t"}}},
{"data":{"name":"q4"},"transform":[{"filter":"datum.s == 'R'"}],"mark":{"type":"text","align":"right","baseline":"middle","fontSize":12,"color":"#333"},"encoding":{"x":{"field":"x","type":"quantitative","title":"Accreth V"},"y":{"field":"y","type":"quantitative","title":"PI"},"text":{"field":"t"}}}
]},
{"width":195,"height":185,"layer":[
{"data":{"name":"h1"},"mark":{"type":"line","color":"#7d6a64","strokeWidth":1.6,"clip":true,"interpolate":"monotone"},
 "encoding":{"x":{"field":"x","type":"quantitative","title":"Accreth V","scale":{"type":"log","domain":[0.1,1000],"nice":false},"axis":{"values":[1,10,100,1000],"labelExpr":"datum.value == 1 ? '10⁰' : datum.value == 10 ? '10¹' : datum.value == 100 ? '10²' : '10³'"}},
 "y":{"field":"y","type":"quantitative","title":"Cells No.","scale":{"domain":[0,1530],"nice":false,"zero":false},"axis":{"values":[0,500,1000,1500],"tickCount":12,"titlePadding":4,"labelPadding":15,"labelFontSize":20,"labelExpr":"replace(format(datum.value, ','), ',', ' ')"}}}},
{"data":{"name":"g1"},"mark":{"type":"rule","color":"#333","strokeWidth":1.6},"encoding":{"x":{"field":"x","type":"quantitative","title":"Accreth V"},"x2":{"field":"x2"},"y":{"field":"y","type":"quantitative","title":"Cells No."}}},
{"data":{"name":"g1"},"mark":{"type":"tick","orient":"vertical","size":8,"thickness":1.5,"color":"#333"},"encoding":{"x":{"field":"x","type":"quantitative","title":"Accreth V"},"y":{"field":"y","type":"quantitative","title":"Cells No."}}},
{"data":{"name":"g1"},"mark":{"type":"tick","orient":"vertical","size":8,"thickness":1.5,"color":"#333"},"encoding":{"x":{"field":"x2","type":"quantitative","title":"Accreth V"},"y":{"field":"y","type":"quantitative","title":"Cells No."}}},
{"data":{"name":"g1"},"mark":{"type":"text","baseline":"bottom","dy":-2,"fontSize":12,"color":"#333"},"encoding":{"x":{"field":"tx","type":"quantitative","title":"Accreth V"},"y":{"field":"y","type":"quantitative","title":"Cells No."},"text":{"field":"t"}}}
]},
{"width":195,"height":185,"layer":[
{"data":{"name":"h2"},"mark":{"type":"line","color":"#7d6a64","strokeWidth":1.6,"clip":true,"interpolate":"monotone"},
 "encoding":{"x":{"field":"x","type":"quantitative","title":"Accreth V","scale":{"type":"log","domain":[0.1,1000],"nice":false},"axis":{"values":[1,10,100,1000],"labelExpr":"datum.value == 1 ? '10⁰' : datum.value == 10 ? '10¹' : datum.value == 100 ? '10²' : '10³'"}},
 "y":{"field":"y","type":"quantitative","title":"Cells No.","scale":{"domain":[0,1415],"nice":false,"zero":false},"axis":{"values":[0,300,600,900,1200],"tickCount":12,"titlePadding":4,"labelPadding":15,"labelFontSize":20,"labelExpr":"replace(format(datum.value, ','), ',', ' ')"}}}},
{"data":{"name":"g2"},"mark":{"type":"rule","color":"#333","strokeWidth":1.6},"encoding":{"x":{"field":"x","type":"quantitative","title":"Accreth V"},"x2":{"field":"x2"},"y":{"field":"y","type":"quantitative","title":"Cells No."}}},
{"data":{"name":"g2"},"mark":{"type":"tick","orient":"vertical","size":8,"thickness":1.5,"color":"#333"},"encoding":{"x":{"field":"x","type":"quantitative","title":"Accreth V"},"y":{"field":"y","type":"quantitative","title":"Cells No."}}},
{"data":{"name":"g2"},"mark":{"type":"tick","orient":"vertical","size":8,"thickness":1.5,"color":"#333"},"encoding":{"x":{"field":"x2","type":"quantitative","title":"Accreth V"},"y":{"field":"y","type":"quantitative","title":"Cells No."}}},
{"data":{"name":"g2"},"mark":{"type":"text","baseline":"bottom","dy":-2,"fontSize":12,"color":"#333"},"encoding":{"x":{"field":"tx","type":"quantitative","title":"Accreth V"},"y":{"field":"y","type":"quantitative","title":"Cells No."},"text":{"field":"t"}}}
]},
{"width":195,"height":185,"layer":[
{"data":{"name":"h3"},"mark":{"type":"line","color":"#7d6a64","strokeWidth":1.6,"clip":true,"interpolate":"monotone"},
 "encoding":{"x":{"field":"x","type":"quantitative","title":"Accreth V","scale":{"type":"log","domain":[0.1,1000],"nice":false},"axis":{"values":[1,10,100,1000],"labelExpr":"datum.value == 1 ? '10⁰' : datum.value == 10 ? '10¹' : datum.value == 100 ? '10²' : '10³'"}},
 "y":{"field":"y","type":"quantitative","title":"Cells No.","scale":{"domain":[0,1005],"nice":false,"zero":false},"axis":{"values":[0,200,400,600,800,1000],"tickCount":12,"titlePadding":4,"labelPadding":15,"labelFontSize":20,"labelExpr":"replace(format(datum.value, ','), ',', ' ')"}}}},
{"data":{"name":"g3"},"mark":{"type":"rule","color":"#333","strokeWidth":1.6},"encoding":{"x":{"field":"x","type":"quantitative","title":"Accreth V"},"x2":{"field":"x2"},"y":{"field":"y","type":"quantitative","title":"Cells No."}}},
{"data":{"name":"g3"},"mark":{"type":"tick","orient":"vertical","size":8,"thickness":1.5,"color":"#333"},"encoding":{"x":{"field":"x","type":"quantitative","title":"Accreth V"},"y":{"field":"y","type":"quantitative","title":"Cells No."}}},
{"data":{"name":"g3"},"mark":{"type":"tick","orient":"vertical","size":8,"thickness":1.5,"color":"#333"},"encoding":{"x":{"field":"x2","type":"quantitative","title":"Accreth V"},"y":{"field":"y","type":"quantitative","title":"Cells No."}}},
{"data":{"name":"g3"},"mark":{"type":"text","baseline":"bottom","dy":-2,"fontSize":12,"color":"#333"},"encoding":{"x":{"field":"tx","type":"quantitative","title":"Accreth V"},"y":{"field":"y","type":"quantitative","title":"Cells No."},"text":{"field":"t"}}}
]},
{"width":195,"height":185,"layer":[
{"data":{"name":"h4"},"mark":{"type":"line","color":"#7d6a64","strokeWidth":1.6,"clip":true,"interpolate":"monotone"},
 "encoding":{"x":{"field":"x","type":"quantitative","title":"Accreth V","scale":{"type":"log","domain":[0.1,1000],"nice":false},"axis":{"values":[1,10,100,1000],"labelExpr":"datum.value == 1 ? '10⁰' : datum.value == 10 ? '10¹' : datum.value == 100 ? '10²' : '10³'"}},
 "y":{"field":"y","type":"quantitative","title":"Cells No.","scale":{"domain":[-145,351],"nice":false,"zero":false},"axis":{"values":[0,100,200,300],"tickCount":12,"titlePadding":4,"labelPadding":15,"labelFontSize":20,"labelExpr":"replace(format(datum.value, ','), ',', ' ')"}}}},
{"data":{"name":"g4"},"mark":{"type":"rule","color":"#333","strokeWidth":1.6},"encoding":{"x":{"field":"x","type":"quantitative","title":"Accreth V"},"x2":{"field":"x2"},"y":{"field":"y","type":"quantitative","title":"Cells No."}}},
{"data":{"name":"g4"},"mark":{"type":"tick","orient":"vertical","size":8,"thickness":1.5,"color":"#333"},"encoding":{"x":{"field":"x","type":"quantitative","title":"Accreth V"},"y":{"field":"y","type":"quantitative","title":"Cells No."}}},
{"data":{"name":"g4"},"mark":{"type":"tick","orient":"vertical","size":8,"thickness":1.5,"color":"#333"},"encoding":{"x":{"field":"x2","type":"quantitative","title":"Accreth V"},"y":{"field":"y","type":"quantitative","title":"Cells No."}}},
{"data":{"name":"g4"},"mark":{"type":"text","baseline":"bottom","dy":-2,"fontSize":12,"color":"#333"},"encoding":{"x":{"field":"tx","type":"quantitative","title":"Accreth V"},"y":{"field":"y","type":"quantitative","title":"Cells No."},"text":{"field":"t"}}}
]}
],
"config": {
"font": "Liberation Serif",
"view": {"stroke": "#777777", "strokeWidth": 1.5, "fill": "#f5f8fb"},
"axis": {"domain": false, "grid": false, "tickSize": -5, "tickColor": "#333333", "tickWidth": 1.3, "labelFont": "Liberation Serif", "labelFontSize": 19, "labelColor": "#111111", "titleFont": "Liberation Serif", "titleFontSize": 21, "titleFontWeight": "normal", "titleColor": "#111111", "labelFlush": false, "labelOverlap": false},
"axisX": {"labelPadding": 13, "titlePadding": 2, "labelFlush": false},
"axisY": {"labelPadding": 9},
"title": {"font": "Liberation Serif", "fontSize": 19, "fontWeight": "normal", "color": "#111111", "offset": 12},
"text": {"font": "Liberation Serif"}
}
}
